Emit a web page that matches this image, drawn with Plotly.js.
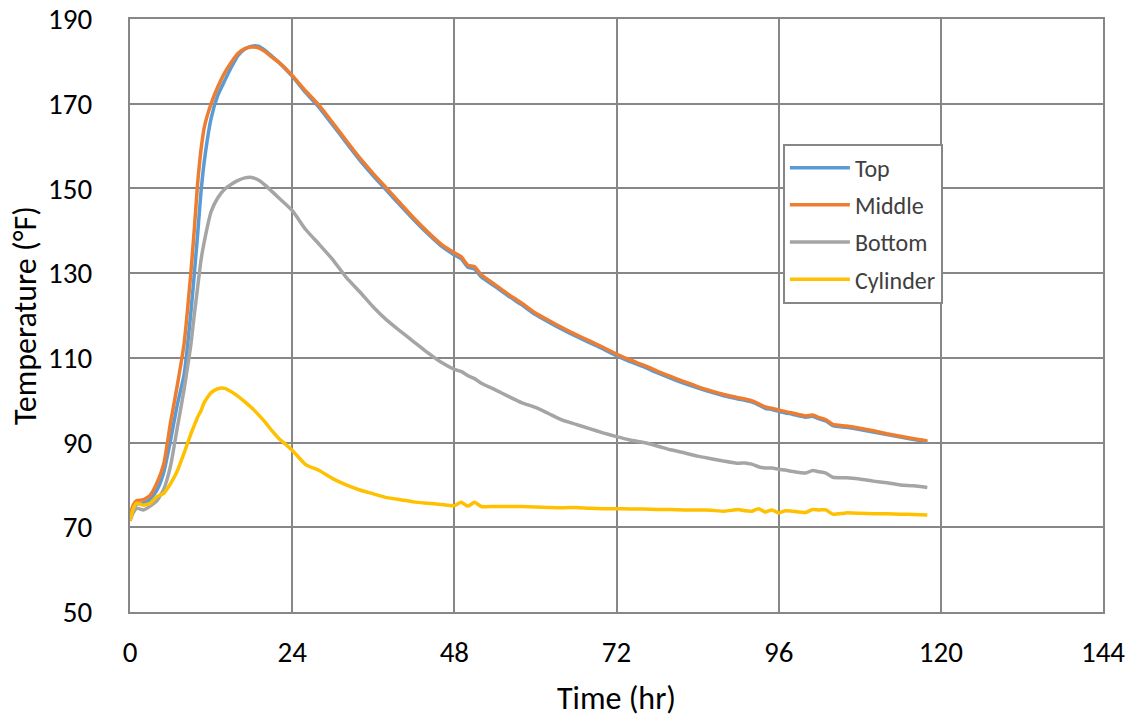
<!DOCTYPE html>
<html>
<head>
<meta charset="utf-8">
<script src="https://cdn.plot.ly/plotly-3.0.1.min.js"></script>
<style>
  html, body { margin: 0; padding: 0; background: #ffffff; }
  #chart { width: 1133px; height: 719px; }
</style>
</head>
<body>
<div id="chart"></div>
<script>
// Time (hr)
const time = [0,0.5,1,2,3,4,5,6,7,8,9,9.5,10,10.5,11,12,13,14,15,16,17,18,19,20,21,22,
  24,26,28,30,32,34,36,38,40,42,44,46,48,49,50,51,52,
  54,56,58,60,62,64,66,68,70,72,74,76,78,80,82,84,86,88,90,
  91,92,93,94,95,96,97,98,100,101,102,103,104,106,108,110,112,114,116,118];

// Temperatures (°F)
const topTemp = [72.7,74.5,75.5,75.7,76.6,78.8,83,90.5,99,106,120.5,129.5,139,149,156.5,166.5,172,175.4,178.6,181.4,182.9,183.6,183.6,182.6,181.2,179.8,
  176.5,172.6,169.1,165,160.8,156.7,153,149.5,146,142.6,139.4,136.5,134.3,133.4,131.4,131,129.1,
  126.9,124.6,122.5,120.2,118.4,116.7,115.1,113.6,112.1,110.5,109.1,107.9,106.5,105.2,104,102.9,101.9,101,100.3,
  100,99.6,98.9,98.1,97.8,97.4,97,96.7,96,96.2,95.6,95.1,94,93.6,93.1,92.5,91.9,91.3,90.7,90.2];

const middleTemp = [73,75.3,76.3,76.5,77.6,80.5,85,94.7,103.5,113.3,130,140,151,159,164.5,170,174,177.3,179.8,181.9,183,183.4,183.2,182.3,181,179.8,
  176.7,173,169.6,165.5,161.3,157.2,153.5,150,146.5,143,139.8,136.9,134.8,133.9,131.9,131.5,129.6,
  127.3,125,122.9,120.6,118.8,117.1,115.5,114,112.5,110.9,109.5,108.3,106.9,105.6,104.4,103.2,102.2,101.3,100.6,
  100.3,99.9,99.2,98.4,98.1,97.7,97.3,97,96.3,96.5,95.9,95.4,94.3,93.9,93.4,92.8,92.1,91.5,90.9,90.4];

const bottomTemp = [71.5,73.5,74.5,74.1,75,76.3,79,84.5,93.5,102.5,113,120,126.5,133,137.5,144.5,147.8,149.8,151,151.9,152.5,152.6,152,150.8,149.3,147.8,
  144.8,140.3,136.8,133.2,129,125.6,122,118.9,116.3,113.8,111.3,109,107.3,106.8,105.8,105.1,104,
  102.5,100.9,99.4,98.3,96.8,95.3,94.3,93.3,92.3,91.4,90.6,90,89.2,88.3,87.6,86.8,86.2,85.6,85.1,
  85.2,84.9,84.3,84,84,83.7,83.5,83.2,82.8,83.4,83.1,82.8,81.8,81.7,81.4,80.9,80.5,80,79.8,79.4];

const cylinderTemp = [71.5,74.5,75.7,75.2,75.7,77.3,78,80.3,83.3,87.5,92,94,96,97.5,99.5,101.8,102.7,102.8,102,100.9,99.6,98.2,96.6,94.8,92.8,91,
  88.2,84.8,83.4,81.5,80,78.8,77.9,77,76.5,76,75.7,75.4,75.1,75.9,75,75.9,74.9,
  74.9,74.9,74.9,74.8,74.7,74.6,74.7,74.5,74.4,74.4,74.3,74.3,74.2,74.2,74.1,74.1,74,73.8,74.2,
  73.9,73.8,74.4,73.6,74.1,73.4,73.9,73.8,73.5,74.2,74.1,74.1,73.1,73.4,73.3,73.2,73.2,73.1,73,72.9];

const seriesNames = ['Top', 'Middle', 'Bottom', 'Cylinder'];
const seriesColors = ['#5B9BD5', '#ED7D31', '#A5A5A5', '#FFC000'];
const xTicks = [0, 24, 48, 72, 96, 120, 144];
const yTicks = [50, 70, 90, 110, 130, 150, 170, 190];

const seriesData = [topTemp, middleTemp, bottomTemp, cylinderTemp];
const traces = seriesData.map((vals, i) => ({
  type: 'scatter',
  mode: 'lines',
  x: time,
  y: vals,
  name: seriesNames[i],
  legendgroup: 'g' + i,
  line: { color: seriesColors[i], width: 3.5, shape: 'spline', smoothing: 0.5 }
}));

const fontFam = 'Carlito, Calibri, Lato, "Open Sans", sans-serif';
const gridCol = '#878787';

const layout = {
  width: 1133,
  height: 719,
  margin: { l: 130, r: 30, t: 19, b: 107 },
  paper_bgcolor: '#ffffff',
  plot_bgcolor: '#ffffff',
  font: { family: fontFam, color: '#000000', size: 29 },
  showlegend: true,
  legend: {
    x: 0.671, y: 0.79, xanchor: 'left', yanchor: 'top',
    bgcolor: '#ffffff', bordercolor: gridCol, borderwidth: 2,
    font: { family: fontFam, size: 24, color: '#404040' },
    traceorder: 'grouped', tracegroupgap: 3,
    itemwidth: 60,
    entrywidth: 130, entrywidthmode: 'pixels'
  },
  xaxis: {
    range: [0, 144],
    tickvals: xTicks,
    ticktext: xTicks.map(String),
    showgrid: true, gridcolor: gridCol, gridwidth: 2,
    showline: true, linecolor: gridCol, linewidth: 2, mirror: true,
    zeroline: false,
    ticks: 'outside', ticklen: 13, tickcolor: 'rgba(0,0,0,0)',
    tickfont: { family: fontFam, size: 29, color: '#000000' },
    title: { text: 'Time (hr)', font: { family: fontFam, size: 32, color: '#000000' }, standoff: 18 }
  },
  yaxis: {
    range: [50, 190],
    tickvals: yTicks,
    ticktext: yTicks.map(String),
    showgrid: true, gridcolor: gridCol, gridwidth: 2,
    showline: true, linecolor: gridCol, linewidth: 2, mirror: true,
    zeroline: false,
    ticks: 'outside', ticklen: 30, tickcolor: 'rgba(0,0,0,0)',
    tickfont: { family: fontFam, size: 29, color: '#000000' },
    title: { text: 'Temperature (°F)', font: { family: fontFam, size: 32, color: '#000000' }, standoff: 2 }
  }
};

Plotly.newPlot('chart', traces, layout, { displayModeBar: false, staticPlot: true });
</script>
</body>
</html>
